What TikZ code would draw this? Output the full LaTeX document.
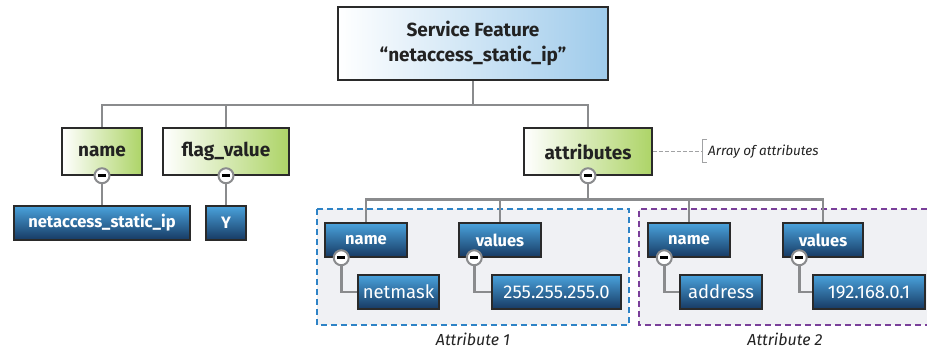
\documentclass[tikz,border=0pt]{standalone}
\usepackage{fontspec}
\setmainfont{Fira Sans}
\usetikzlibrary{backgrounds}
\definecolor{boxline}{HTML}{2A2A2A}
\definecolor{greenR}{HTML}{ADD467}
\definecolor{skyR}{HTML}{9FCBEB}
\definecolor{blueT}{HTML}{4AA2DC}
\definecolor{blueB}{HTML}{173A63}
\definecolor{conncol}{HTML}{8A8B8D}
\definecolor{grpfill}{HTML}{F0F1F4}
\definecolor{grpblue}{HTML}{2E83C6}
\definecolor{grppurple}{HTML}{7A3F9A}
\definecolor{textdark}{HTML}{222222}
\pgfdeclarelayer{back}
\pgfsetlayers{back,background,main}
\begin{document}
\begin{tikzpicture}[x=1pt,y=-1pt,
  titlebox/.style={draw=boxline, line width=1.5pt, left color=white, right color=skyR,
    minimum width=270pt, minimum height=73pt, inner sep=0pt, align=center, text=textdark,
    font=\fontsize{19}{25}\bfseries\selectfont},
  greenbox/.style={draw=boxline, line width=1.5pt, left color=white, right color=greenR,
    minimum height=47pt, inner sep=0pt, text=textdark, font=\fontsize{19}{23}\bfseries\selectfont},
  bluebox/.style={draw=boxline, line width=1.5pt, top color=blueT, bottom color=blueB,
    minimum height=34pt, inner sep=0pt, text=white},
  bluebold/.style={bluebox, font=\fontsize{16.5}{20}\bfseries\selectfont},
  bluereg/.style={bluebox, font=\fontsize{18.5}{22}\selectfont},
  minusc/.style={circle, draw=conncol, line width=2pt, fill=white, minimum size=15pt, inner sep=0pt,
    path picture={\draw[line width=2.6pt, black] ([xshift=-4.2pt]path picture bounding box.center) -- ([xshift=4.2pt]path picture bounding box.center);}},
  conn/.style={draw=conncol, line width=2.5pt},
  grplabel/.style={font=\fontsize{16}{20}\itshape\selectfont, text=textdark}
]
\useasboundingbox (0,0) rectangle (927,352);

% groups
\begin{pgfonlayer}{back}
  \fill[grpfill] (317,209) rectangle (629,325);
  \draw[grpblue, line width=2pt, dash pattern=on 6pt off 4pt] (317,209) rectangle (629,325);
  \fill[grpfill] (639,209) rectangle (927,325);
  \draw[grppurple, line width=2pt, dash pattern=on 6pt off 4pt] (927,209) -- (639,209) -- (639,325) -- (927,325);
\end{pgfonlayer}

% nodes
\node[titlebox] (title) at (473,43.5) {Service Feature\\“netaccess\_static\_ip”};
\node[greenbox, minimum width=80pt] (gname) at (102,151.5) {name};
\node[greenbox, minimum width=126pt] (gflag) at (226,151.5) {flag\_value};
\node[greenbox, minimum width=128pt] (gattr) at (588,151.5) {attributes};

\node[bluebold, minimum width=176pt] (nsi) at (102,223) {netaccess\_static\_ip};
\node[bluebold, minimum width=40pt] (yv) at (226,223) {Y};

\node[bluebold, minimum width=82pt] (n1) at (366,240) {name};
\node[bluebold, minimum width=82pt] (v1) at (500,240) {values};
\node[bluereg, minimum width=81pt] (nm) at (398.5,292) {netmask};
\node[bluereg, minimum width=129pt] (ip1) at (556.5,292) {255.255.255.0};

\node[bluebold, minimum width=82pt] (n2) at (689,240) {name};
\node[bluebold, minimum width=80pt] (v2) at (823,240) {values};
\node[bluereg, minimum width=82pt] (ad) at (721,292) {address};
\node[bluereg, minimum width=112pt] (ip2) at (869,292) {192.168.0.1};

% minus circles
\node[minusc] (cg1) at (gname.south) {};
\node[minusc] (cg2) at (gflag.south) {};
\node[minusc] (cg3) at (gattr.south) {};
\node[minusc] (cn1) at ([xshift=17pt]n1.south west) {};
\node[minusc] (cv1) at ([xshift=16pt]v1.south west) {};
\node[minusc] (cn2) at ([xshift=17pt]n2.south west) {};
\node[minusc] (cv2) at ([xshift=17pt]v2.south west) {};

\coordinate (bus1) at (473,105);
\coordinate (bus2) at (588,199.5);

% connectors
\begin{pgfonlayer}{background}
  \draw[conn] (title.south) -- (bus1);
  \draw[conn] (gname.north) |- (bus1) -| (gattr.north);
  \draw[conn] (gflag.north) -- (gflag.north |- bus1);
  \draw[conn] (cg1) -- (nsi.north);
  \draw[conn] (cg2) -- (yv.north -| cg2);
  \draw[conn] (cg3) -- (bus2);
  \draw[conn] (n1.north) |- (bus2) -| (v2.north);
  \draw[conn] (v1.north) -- (v1.north |- bus2);
  \draw[conn] (n2.north) -- (n2.north |- bus2);
  \draw[conn] (cn1) |- (nm.west);
  \draw[conn] (cv1) |- (ip1.west);
  \draw[conn] (cn2) |- (ad.west);
  \draw[conn] (cv2) |- (ip2.west);
\end{pgfonlayer}

% annotation
\coordinate (brk) at (702,151.5);
\draw[conncol!80, line width=1pt, dash pattern=on 4pt off 2pt] (gattr.east) -- (brk);
\draw[conncol!80, line width=1pt] (707,140) -- (702,140) -- (702,163) -- (707,163);
\node[anchor=west, inner sep=0pt, font=\fontsize{13.5}{16}\itshape\selectfont, text=textdark] (arr) at (708,151.5) {Array of attributes};

\node[grplabel] (lab1) at (473,339) {Attribute 1};
\node[grplabel] (lab2) at (785,339) {Attribute 2};
\end{tikzpicture}
\end{document}
